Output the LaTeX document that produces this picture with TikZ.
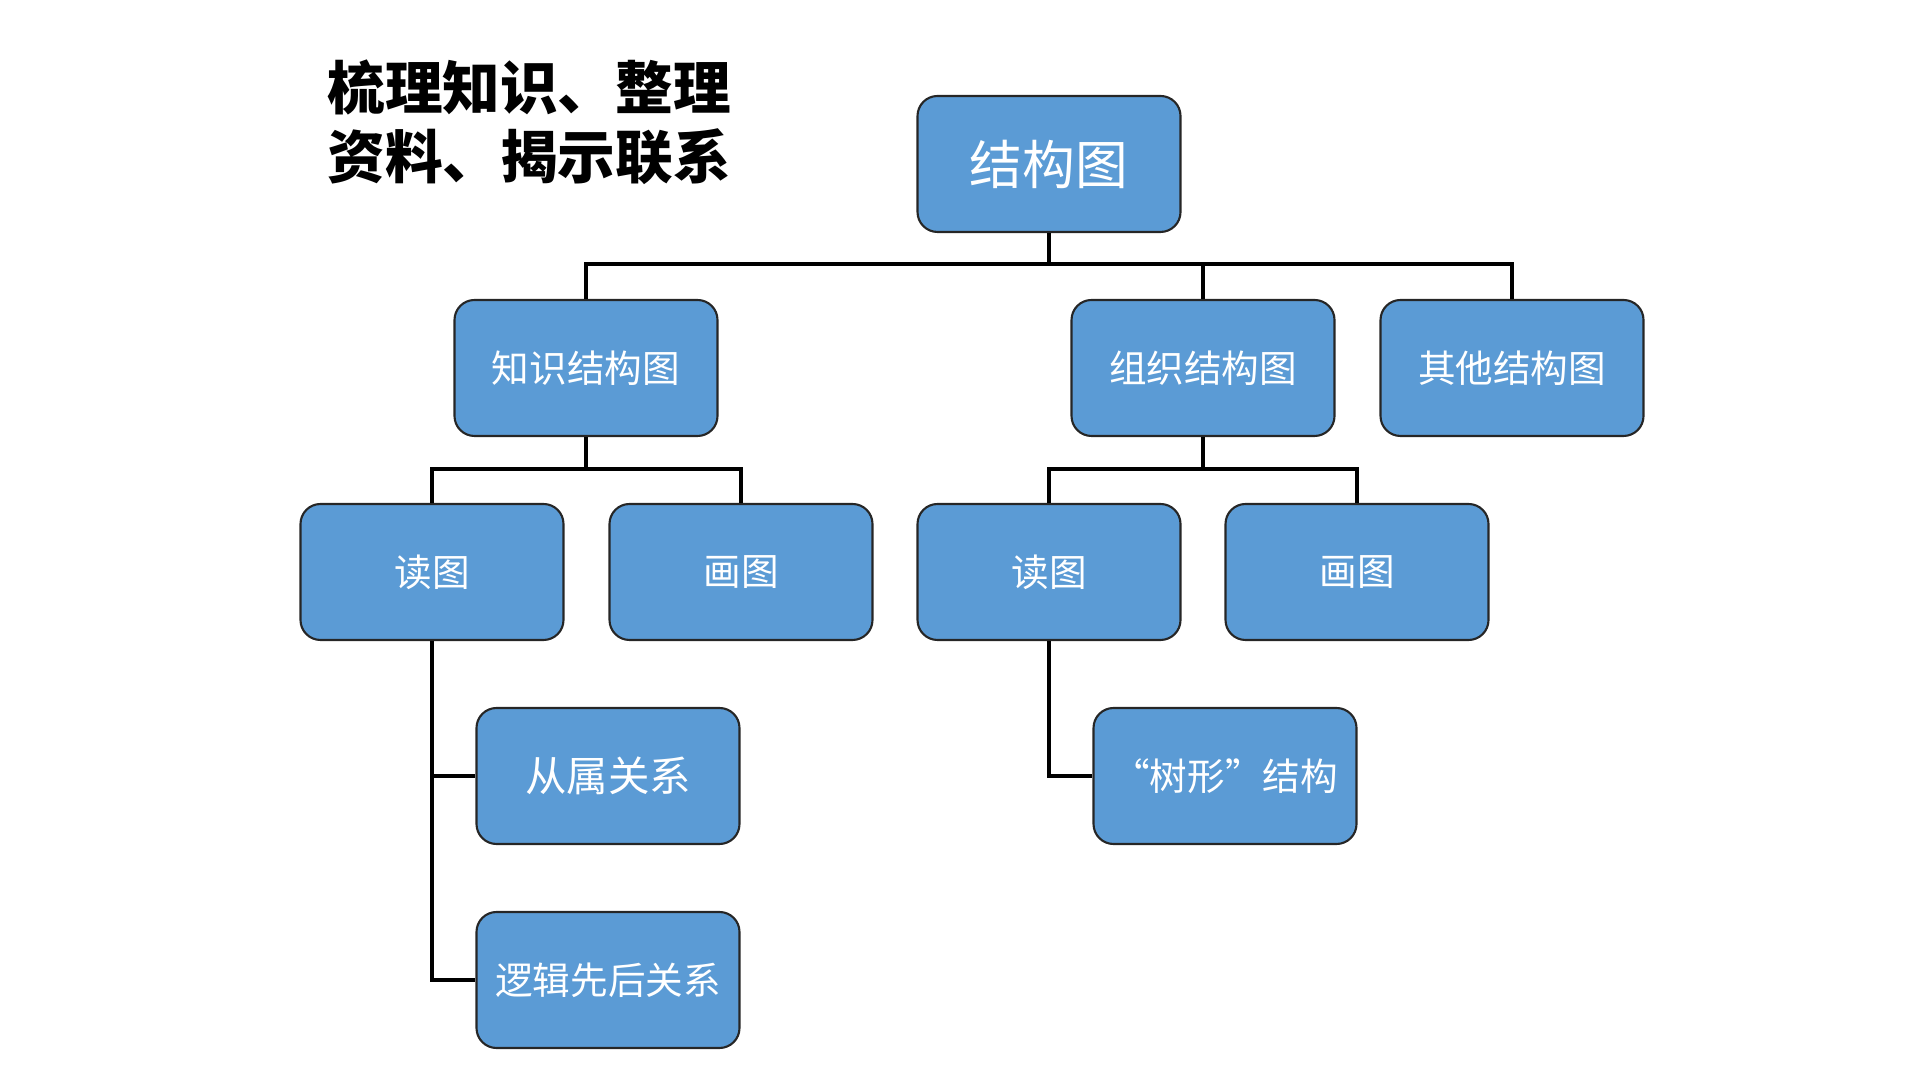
\documentclass[tikz,border=0pt]{standalone}
\usepackage{fontspec}
\newfontfamily\cjk{Noto Sans CJK SC}
\usepackage{tikz}
\usetikzlibrary{positioning}
\definecolor{boxblue}{HTML}{5B9BD5}

\begin{document}
\begin{tikzpicture}
\tikzset{box/.style={rectangle,rounded corners=0.2cm,draw=black!85,line width=0.6pt,fill=boxblue,
    minimum width=2.63cm,minimum height=1.36cm,inner sep=0pt,text=white,font=\cjk\fontsize{10.7pt}{12pt}\selectfont},
  link/.style={line width=1.3pt,black}}
\useasboundingbox (0,0) rectangle (19.2,10.8);
% title in the upper left
\node[anchor=west,align=left,font=\cjk\bfseries\fontsize{16.4pt}{19.6pt}\selectfont] (title) at (3.15,9.58) {梳理知识、整理\\资料、揭示联系};
% the tree
\node[box,font=\cjk\fontsize{15pt}{17pt}\selectfont] (root) at (10.49,9.16) {结构图};
\node[box] (know) at (5.86,7.12) {知识结构图};
\node[box] (org) at (12.03,7.12) {组织结构图};
\node[box] (other) at (15.12,7.12) {其他结构图};
\node[box] (kread) at (4.32,5.08) {读图};
\node[box] (kdraw) at (7.41,5.08) {画图};
\node[box] (oread) at (10.49,5.08) {读图};
\node[box] (odraw) at (13.57,5.08) {画图};
\node[box,font=\cjk\fontsize{11.8pt}{13pt}\selectfont] (sub) at (6.08,3.04) {从属关系};
\node[box] (logic) at (6.08,1.0) {逻辑先后关系};
\node[box] (tree) at (12.25,3.04) {“树形”结构};
\coordinate (bus) at (0,8.16);
\coordinate (kbus) at (0,6.11);
\coordinate (obus) at (0,6.11);
\foreach \t in {know,org,other}
    \draw[link] (root.south) -- (root.south |- bus) -| (\t.north);
\foreach \t in {kread,kdraw}
    \draw[link] (know.south) -- (know.south |- kbus) -| (\t.north);
\foreach \t in {oread,odraw}
    \draw[link] (org.south) -- (org.south |- obus) -| (\t.north);
\foreach \t in {sub,logic}
    \draw[link] (kread.south) |- (\t.west);
\draw[link] (oread.south) |- (tree.west);
\end{tikzpicture}
\end{document}
